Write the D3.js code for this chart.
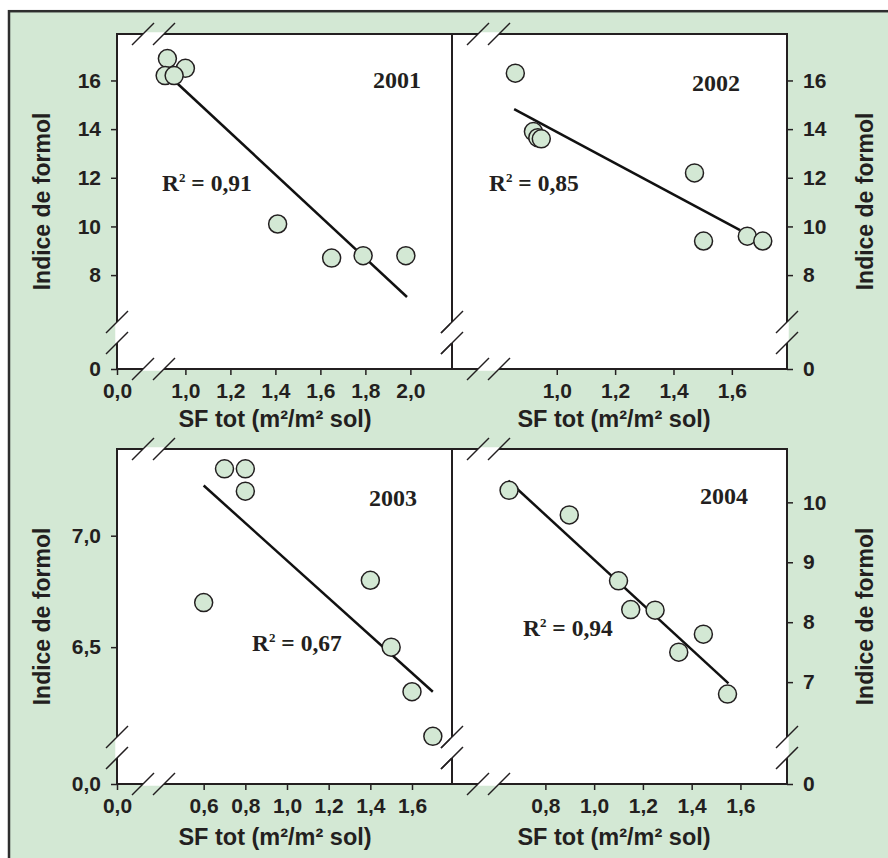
<!DOCTYPE html>
<html>
<head>
<meta charset="utf-8">
<script src="https://cdn.jsdelivr.net/npm/d3@7"></script>
<style>
  body { margin: 0; background: #fff; }
  svg text { fill: #231f20; }
</style>
</head>
<body>
<div id="chart"></div>
<script>
// values
const years = ["2001", "2002", "2003", "2004"];
const r2Labels = ["0,91", "0,85", "0,67", "0,94"];

const sf2001 = [0.92, 1.0, 0.91, 0.95, 1.41, 1.65, 1.79, 1.98];
const formol2001 = [16.9, 16.5, 16.2, 16.2, 10.1, 8.7, 8.8, 8.8];
const fit2001 = [[0.95, 16.0], [1.985, 7.1]];

const sf2002 = [0.858, 0.92, 0.935, 0.947, 1.472, 1.503, 1.653, 1.706];
const formol2002 = [16.3, 13.9, 13.65, 13.6, 12.2, 9.4, 9.6, 9.4];
const fit2002 = [[0.854, 14.82], [1.628, 9.85]];

const sf2003 = [0.7, 0.8, 0.8, 0.6, 1.4, 1.5, 1.6, 1.7];
const formol2003 = [7.3, 7.3, 7.2, 6.7, 6.8, 6.5, 6.3, 6.1];
const fit2003 = [[0.6, 7.225], [1.7, 6.3]];

const sf2004 = [0.651, 0.898, 1.1, 1.15, 1.25, 1.448, 1.347, 1.547];
const formol2004 = [10.2, 9.79, 8.69, 8.21, 8.2, 7.8, 7.5, 6.8];
const fit2004 = [[0.648, 10.36], [1.551, 6.98]];

// ticks
const xTicks2001 = [0, 1.0, 1.2, 1.4, 1.6, 1.8, 2.0],
  yTicks2001 = [0, 8, 10, 12, 14, 16];
const xTicks2002 = [1.0, 1.2, 1.4, 1.6],
  yTicks2002 = [0, 8, 10, 12, 14, 16];
const xTicks2003 = [0, 0.6, 0.8, 1.0, 1.2, 1.4, 1.6],
  yTicks2003 = [0, 6.5, 7.0];
const xTicks2004 = [0.8, 1.0, 1.2, 1.4, 1.6],
  yTicks2004 = [0, 7, 8, 9, 10];

const xTitle = "SF tot (m²/m² sol)",
  yTitle = "Indice de formol";

const green = "#d3e8d4",
  ink = "#231f20";
const W = 335,
  H = 335;

const fr = d3.formatLocale({ decimal: ",", thousands: " ", grouping: [3], currency: ["", " €"] });
const f1 = fr.format(".1f"),
  f0 = fr.format("d");

// layout of the 4 panels (axis limits = values at plot edges)
const panels = [
  { sf: sf2001, formol: formol2001, fit: fit2001, left: 117, top: 34, side: "left",
    xLim: [0.696, 2.185], xBreak: 0.8, xTicks: xTicks2001, xFmt: f1,
    yLim: [4.14, 17.91], yBreak: 6, yTicks: yTicks2001, yFmt: f0,
    yearPos: [256, 54], r2Pos: [45, 157], titleDy: 58 },
  { sf: sf2002, formol: formol2002, fit: fit2002, left: 452, top: 34, side: "right",
    xLim: [0.641, 1.789], xBreak: 0.75, xTicks: xTicks2002, xFmt: f1,
    yLim: [4.14, 17.91], yBreak: 6, yTicks: yTicks2002, yFmt: f0,
    yearPos: [240, 57], r2Pos: [37, 157], titleDy: 58 },
  { sf: sf2003, formol: formol2003, fit: fit2003, left: 117, top: 449, side: "left",
    xLim: [0.184, 1.792], xBreak: 0.35, xTicks: xTicks2003, xFmt: f1,
    yLim: [5.886, 7.389], yBreak: 6, yTicks: yTicks2003, yFmt: f1,
    yearPos: [252, 57], r2Pos: [135, 202], titleDy: 61 },
  { sf: sf2004, formol: formol2004, fit: fit2004, left: 452, top: 449, side: "right",
    xLim: [0.417, 1.791], xBreak: 0.5, xTicks: xTicks2004, xFmt: f1,
    yLim: [5.3, 10.89], yBreak: 6, yTicks: yTicks2004, yFmt: f0,
    yearPos: [248, 55], r2Pos: [71, 187], titleDy: 61 }
];

const svg = d3
  .select("#chart")
  .append("svg")
  .attr("width", 888)
  .attr("height", 858);

// green outer box
svg
  .append("rect")
  .attr("x", 9)
  .attr("y", 11.2)
  .attr("width", 900)
  .attr("height", 900)
  .attr("fill", green)
  .attr("stroke", "#2e2e2e")
  .attr("stroke-width", 2.5);

// a scale whose low part (0 .. brk) is squeezed into the axis break
function brokenScale(lim, brk, r0, r1) {
  const main = d3.scaleLinear().domain(lim).range([r0, r1]);
  return d3
    .scaleLinear()
    .domain([0, brk, lim[1]])
    .range([r0, main(brk), r1]);
}

const breakAt = [26, 47], // px from the axis corner
  s = 11;

panels.forEach(function(p, i) {
  const g = svg.append("g").attr("transform", "translate(" + p.left + "," + p.top + ")");
  p.g = g;
  p.x = brokenScale(p.xLim, p.xBreak, 0, W);
  p.y = brokenScale(p.yLim, p.yBreak, H, 0);

  g.append("rect")
    .attr("width", W)
    .attr("height", H)
    .attr("fill", "#fff");
});

panels.forEach(function(p, i) {
  const g = p.g;

  g.append("rect")
    .attr("width", W)
    .attr("height", H)
    .attr("fill", "none")
    .attr("stroke", ink)
    .attr("stroke-width", 2);

  // x axis
  const gx = g
    .append("g")
    .attr("transform", "translate(0," + H + ")")
    .call(
      d3.axisBottom(p.x)
        .tickValues(p.xTicks)
        .tickFormat(p.xFmt)
        .tickSize(6)
        .tickPadding(8)
        .tickSizeOuter(0)
    );
  gx.select(".domain").remove();

  // y axis, left or right
  const yAxis = p.side === "left" ? d3.axisLeft(p.y) : d3.axisRight(p.y);
  const gy = g
    .append("g")
    .attr("transform", p.side === "left" ? null : "translate(" + W + ",0)")
    .call(
      yAxis
        .tickValues(p.yTicks)
        .tickFormat(p.yFmt)
        .tickSize(6)
        .tickPadding(10)
        .tickSizeOuter(0)
    );
  gy.select(".domain").remove();

  [gx, gy].forEach(function(a) {
    a.attr("font-size", 21)
      .attr("font-family", "'Liberation Sans', Arial, sans-serif")
      .attr("font-weight", "bold")
      .attr("color", ink);
    a.selectAll(".tick line").attr("stroke-width", 1.5);
  });

  // axis titles
  g.append("text")
    .attr("x", p.side === "left" ? 158 : 162)
    .attr("y", H + p.titleDy)
    .attr("text-anchor", "middle")
    .style("font", "bold 23.5px 'Liberation Sans', Arial, sans-serif")
    .text(xTitle);

  const tx = p.side === "left" ? -67 : W + 86;
  g.append("text")
    .attr("transform", "translate(" + tx + "," + H / 2 + ") rotate(-90)")
    .attr("text-anchor", "middle")
    .style("font", "bold 23px 'Liberation Sans', Arial, sans-serif")
    .text(yTitle);

  // axis break marks on the four sides
  const brk = g.append("g");
  [0, W].forEach(function(ax) {
    brk.append("line")
      .attr("x1", ax).attr("x2", ax)
      .attr("y1", H - breakAt[0]).attr("y2", H - breakAt[1])
      .attr("stroke", "#fff").attr("stroke-width", 3.5);
    breakAt.forEach(function(o) {
      brk.append("line")
        .attr("x1", ax - s).attr("y1", H - o + s)
        .attr("x2", ax + s).attr("y2", H - o - s);
    });
  });
  [0, H].forEach(function(ay) {
    brk.append("line")
      .attr("x1", breakAt[0]).attr("x2", breakAt[1])
      .attr("y1", ay).attr("y2", ay)
      .attr("stroke", "#fff").attr("stroke-width", 3.5);
    breakAt.forEach(function(o) {
      brk.append("line")
        .attr("x1", o - s).attr("y1", ay + s)
        .attr("x2", o + s).attr("y2", ay - s);
    });
  });
  brk.selectAll("line")
    .filter(function() { return !d3.select(this).attr("stroke"); })
    .attr("stroke", ink)
    .attr("stroke-width", 1.5);
});

// data drawn last so it sits on top of the break marks
panels.forEach(function(p, i) {
  const g = p.g;

  g.append("path")
    .datum(p.fit)
    .attr("fill", "none")
    .attr("stroke", "#111")
    .attr("stroke-width", 2.5)
    .attr("d", d3.line().x(d => p.x(d[0])).y(d => p.y(d[1])));

  g.selectAll("circle")
    .data(d3.zip(p.sf, p.formol))
    .join("circle")
    .attr("cx", d => p.x(d[0]))
    .attr("cy", d => p.y(d[1]))
    .attr("r", 9)
    .attr("fill", green)
    .attr("stroke", ink)
    .attr("stroke-width", 1.5);

  g.append("text")
    .attr("x", p.yearPos[0])
    .attr("y", p.yearPos[1])
    .style("font", "bold 24px 'Liberation Serif', 'Times New Roman', serif")
    .text(years[i]);

  const r2 = g.append("text")
    .attr("x", p.r2Pos[0])
    .attr("y", p.r2Pos[1])
    .style("font", "bold 23.5px 'Liberation Serif', 'Times New Roman', serif");
  r2.append("tspan").text("R");
  r2.append("tspan").attr("font-size", 13).attr("dy", -9).text("2");
  r2.append("tspan").attr("dy", 9).text(" = " + r2Labels[i]);
});
</script>
</body>
</html>
